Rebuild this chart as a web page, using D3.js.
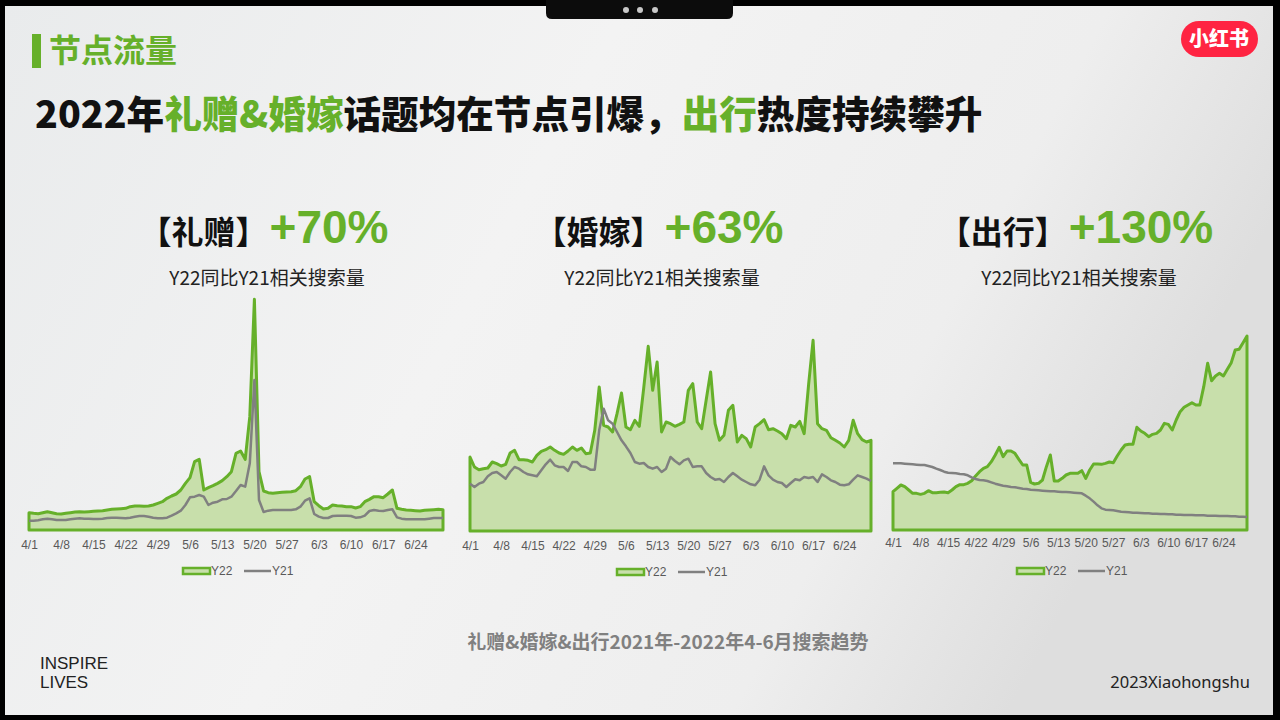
<!DOCTYPE html>
<head>
  <meta charset="utf-8" />
  <script src="https://d3js.org/d3.v7.min.js"></script>
  <style>
    body { margin: 0; background: #000; }
    svg { display: block; }
  </style>
</head>
<body>
<script>
// ---- data (index values, 4/1 .. 6/30) ----
var tickLabels = ["4/1","4/8","4/15","4/22","4/29","5/6","5/13","5/20","5/27","6/3","6/10","6/17","6/24"];

var giftY22 = [52,50,49,52,55,52,49, 48,50,52,54,55,54,55, 56,57,58,60,62,63,64, 65,70,72,72,71,72,75,
  80,85,95,102,108,120,140, 157,205,212,120,127,133,140, 148,160,175,230,237,212,340, 692,175,117,112,110,112,113,
  114,115,118,130,153,160,85, 73,63,65,75,73,72,70, 70,66,70,85,92,100,100, 97,108,120,65,62,60,59, 58,57,59,60,61,62,61];
var giftY21 = [28,28,29,32,34,32,30, 30,30,32,34,35,34,34, 33,33,34,36,37,37,36, 35,37,40,42,42,40,37,
  35,35,37,43,50,58,75, 98,100,105,100,75,82,85, 92,93,100,117,135,130,200, 450,90,54,58,60,60,60,
  60,60,62,70,88,95,48, 40,36,36,42,43,43,43, 42,37,38,43,57,60,58, 57,60,62,38,34,32,32, 32,32,32,34,36,36,36];

var weddingY22 = [222,192,184,187,189,207,202, 195,200,234,242,214,214,212, 207,227,239,244,252,242,234, 230,240,252,242,249,232,234,
  302,432,317,312,297,352,414, 312,304,332,314,430,554,422, 507,297,327,322,314,320,327, 422,442,327,307,392,477,322,
  272,287,362,377,267,287,277, 252,312,322,334,304,307,300, 292,277,317,312,329,292,440, 572,322,307,302,280,272,264, 252,272,332,292,274,267,272];
var weddingY21 = [142,132,142,147,164,174,177, 167,157,177,192,187,177,170, 167,164,182,200,214,197,192, 192,180,207,207,194,192,184,
  184,302,367,332,322,297,272, 254,234,207,202,204,192,187, 192,177,187,222,210,200,212, 217,192,194,194,174,162,154,
  156,147,162,174,164,154,147, 140,137,154,194,167,154,147, 144,132,144,155,152,162,159, 162,147,170,162,152,147,139, 137,140,154,167,162,157,150];

var travelY22 = [115,125,135,130,120,110,110, 107,110,118,112,112,113,114, 112,120,130,136,136,140,148, 162,175,185,190,205,225,248,
  220,237,237,230,212,195,195, 143,138,140,150,190,225,147, 147,155,165,170,170,170,178, 155,180,198,198,197,200,204,
  202,222,240,255,257,257,308, 297,290,280,287,290,300,320, 317,300,330,355,368,375,382, 375,375,430,500,448,462,470, 462,482,502,540,542,562,582];
var travelY21 = [200,200,200,199,198,197,196, 195,195,192,189,184,180,175, 172,171,170,168,167,164,158, 153,150,149,147,143,139,136,
  133,131,129,128,126,124,123, 121,120,119,118,117,116,116, 115,114,114,113,112,111,110, 103,95,85,74,65,61,60,
  59,57,55,54,53,52,52, 51,50,50,49,49,48,48, 47,47,46,46,45,45,45, 44,44,44,43,43,43,42, 42,42,41,41,40,40,39];

var topics = ["【礼赠】", "【婚嫁】", "【出行】"];
var growth = ["+70%", "+63%", "+130%"];
var seriesNames = ["Y22", "Y21"];

var dates = d3.timeDay.range(new Date(2022, 3, 1), new Date(2022, 6, 1));

var W = 1280, H = 720;
var green = "#66b02a", fillGreen = "#c8dfab", grey = "#808080";
var cjk = "'Noto Sans CJK SC', 'Noto Sans', sans-serif";
var latin = "'Liberation Sans', Arial, sans-serif";

var svg = d3.select("body").append("svg").attr("width", W).attr("height", H);

// background
var defs = svg.append("defs");
var bg = defs.append("linearGradient").attr("id", "bg").attr("x1", "0").attr("x2", "1").attr("y1", "0").attr("y2", "0.3");
bg.append("stop").attr("offset", "0").attr("stop-color", "#e9ebec");
bg.append("stop").attr("offset", "0.45").attr("stop-color", "#f3f3f3");
bg.append("stop").attr("offset", "0.8").attr("stop-color", "#eeeeee");
bg.append("stop").attr("offset", "1").attr("stop-color", "#dedede");
svg.append("rect").attr("width", W).attr("height", H).attr("fill", "#000");
svg.append("rect").attr("x", 5).attr("y", 6).attr("width", 1268).attr("height", 709).attr("fill", "url(#bg)");

// top tab
svg.append("path").attr("d", "M546,0 H733 V13 Q733,19 727,19 H552 Q546,19 546,13 Z").attr("fill", "#0c0c0c");
svg.selectAll("circle.dot").data([626, 640, 655]).join("circle")
  .attr("cx", function (d) { return d; }).attr("cy", 10).attr("r", 3).attr("fill", "#c8c8c8");

// header
svg.append("rect").attr("x", 32).attr("y", 34).attr("width", 9).attr("height", 34).attr("fill", green);
svg.append("text").attr("x", 49).attr("y", 62).attr("font-family", cjk).attr("font-weight", 700)
  .attr("font-size", 32).attr("fill", green).text("节点流量");

var title = svg.append("text").attr("x", 35).attr("y", 128).attr("font-family", cjk)
  .attr("font-weight", 900).attr("font-size", 37.6).attr("fill", "#111");
[["2022年", "#111"], ["礼赠&婚嫁", green], ["话题均在节点引爆，", "#111"], ["出行", green], ["热度持续攀升", "#111"]]
  .forEach(function (p) { title.append("tspan").attr("fill", p[1]).text(p[0]); });

// logo
svg.append("rect").attr("x", 1181).attr("y", 21).attr("width", 77).attr("height", 36).attr("rx", 18).attr("fill", "#ff2442");
svg.append("text").attr("x", 1219).attr("y", 46).attr("text-anchor", "middle").attr("font-family", cjk)
  .attr("font-weight", 900).attr("font-size", 20).attr("fill", "#fff").text("小红书");

// charts
var charts = [
  { y22: giftY22, y21: giftY21, x0: 29, x1: 443, base: 530, cx: 264, pad: 10, leg: 183 },
  { y22: weddingY22, y21: weddingY21, x0: 470, x1: 871, base: 531, cx: 659, pad: 10, leg: 617 },
  { y22: travelY22, y21: travelY21, x0: 893, x1: 1247, base: 530, cx: 1076, pad: 8, leg: 1017 }
];

charts.forEach(function (c, i) {
  var g = svg.append("g");

  var x = d3.scaleTime().domain([dates[0], dates[dates.length - 1]]).range([c.x0, c.x1]);
  var y = d3.scaleLinear().domain([0, 600]).range([c.base, c.base - 200]);

  var area = d3.area()
    .x(function (d, j) { return x(dates[j]); })
    .y0(c.base)
    .y1(function (d) { return y(d); });
  var line = d3.line()
    .x(function (d, j) { return x(dates[j]); })
    .y(function (d) { return y(d); });

  g.append("path").datum(c.y22)
    .attr("d", area(c.y22) + "Z")
    .attr("fill", fillGreen).attr("stroke", green).attr("stroke-width", 3).attr("stroke-linejoin", "round");
  g.append("path").datum(c.y21).attr("d", line)
    .attr("fill", "none").attr("stroke", grey).attr("stroke-width", 2.5).attr("stroke-linejoin", "round");

  var tickDates = tickLabels.map(function (t) {
    var p = t.split("/");
    return new Date(2022, +p[0] - 1, +p[1]);
  });
  var axis = g.append("g").attr("transform", "translate(0," + c.base + ")")
    .call(d3.axisBottom(x).tickValues(tickDates).tickSize(0).tickPadding(c.pad)
      .tickFormat(function (d, j) { return tickLabels[j]; }));
  axis.select(".domain").remove();
  axis.selectAll("text").attr("font-family", latin).attr("font-size", 12).attr("fill", "#595959");

  // legend
  var ly = c.base + 41;
  g.append("rect").attr("x", c.leg).attr("y", ly - 3).attr("width", 27).attr("height", 6)
    .attr("fill", fillGreen).attr("stroke", green).attr("stroke-width", 2.5);
  g.append("text").attr("x", c.leg + 28).attr("y", ly + 4).attr("font-family", latin).attr("font-size", 12)
    .attr("fill", "#595959").text(seriesNames[0]);
  g.append("line").attr("x1", c.leg + 61).attr("x2", c.leg + 88).attr("y1", ly).attr("y2", ly)
    .attr("stroke", grey).attr("stroke-width", 2.5);
  g.append("text").attr("x", c.leg + 89).attr("y", ly + 4).attr("font-family", latin).attr("font-size", 12)
    .attr("fill", "#595959").text(seriesNames[1]);

  // titles
  var t = g.append("text").attr("x", c.cx).attr("y", 244).attr("text-anchor", "middle");
  t.append("tspan").attr("font-family", cjk).attr("font-weight", 700).attr("font-size", 32).attr("fill", "#111").text(topics[i]);
  t.append("tspan").attr("dx", 2).attr("font-family", latin).attr("font-weight", 700).attr("font-size", 46)
    .attr("fill", green).attr("dy", -1).text(growth[i]);
  g.append("text").attr("x", c.cx + 3).attr("y", 285).attr("text-anchor", "middle").attr("font-family", cjk)
    .attr("font-size", 19).attr("fill", "#222").text("Y22同比Y21相关搜索量");
});

// footer
svg.append("text").attr("x", 668).attr("y", 649).attr("text-anchor", "middle").attr("font-family", cjk)
  .attr("font-weight", 700).attr("font-size", 19).attr("fill", "#808080").text("礼赠&婚嫁&出行2021年-2022年4-6月搜索趋势");
svg.append("text").attr("x", 40).attr("y", 669).attr("font-family", "'Liberation Sans Narrow', " + latin)
  .attr("font-size", 17).attr("fill", "#222").text("INSPIRE");
svg.append("text").attr("x", 40).attr("y", 688).attr("font-family", "'Liberation Sans Narrow', " + latin)
  .attr("font-size", 17).attr("fill", "#222").text("LIVES");
svg.append("text").attr("x", 1250).attr("y", 688).attr("text-anchor", "end").attr("font-family", "'Noto Sans', " + latin)
  .attr("font-size", 16.5).attr("fill", "#222").text("2023Xiaohongshu");
</script>
</body>
